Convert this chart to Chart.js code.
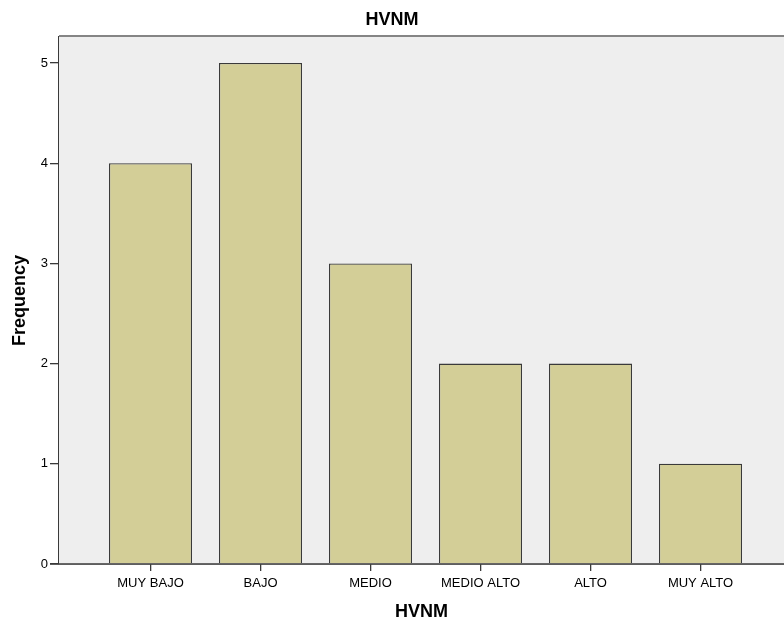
<!DOCTYPE html>
<html>
<head>
<meta charset="utf-8">
<script src="https://cdn.jsdelivr.net/npm/chart.js@4.4.1/dist/chart.umd.min.js"></script>
<style>
  html, body { margin: 0; padding: 0; background: #ffffff; }
  canvas { display: block; }
</style>
</head>
<body>
<canvas id="grafico" width="784" height="623"></canvas>
<script>
// Datos del gráfico
const categorias = ['MUY BAJO', 'BAJO', 'MEDIO', 'MEDIO ALTO', 'ALTO', 'MUY ALTO'];
const frecuencias = [4, 5, 3, 2, 2, 1];
const ticksY = [0, 1, 2, 3, 4, 5];
const titulo = 'HVNM';
const tituloX = 'HVNM';
const tituloY = 'Frequency';

const fuente = "'Liberation Sans', Arial, sans-serif";
const colorEje = '#3a3a3a';

// Fondo gris del área de trazado, borde superior y línea base encima de las barras
const fondoPlot = {
    id: 'fondoPlot',
    beforeDatasetsDraw(chart) {
        const { ctx, chartArea: a } = chart;
        ctx.save();
        ctx.fillStyle = '#eeeeee';
        ctx.fillRect(a.left, a.top, a.right - a.left, a.bottom - a.top);
        ctx.restore();
    },
    afterDraw(chart) {
        const { ctx, chartArea: a } = chart;
        ctx.save();
        ctx.strokeStyle = '#858585';
        ctx.lineWidth = 2;
        ctx.beginPath();
        ctx.moveTo(a.left, a.top - 1);
        ctx.lineTo(a.right, a.top - 1);
        ctx.stroke();
        // línea base del eje x
        ctx.strokeStyle = colorEje;
        ctx.lineWidth = 1.3;
        ctx.beginPath();
        ctx.moveTo(a.left - 9, a.bottom);
        ctx.lineTo(a.right, a.bottom);
        ctx.stroke();
        ctx.restore();
    }
};

const ctx = document.getElementById('grafico').getContext('2d');
const chart = new Chart(ctx, {
    type: 'bar',
    data: {
        datasets: [{
            label: 'Frequency',
            data: frecuencias.map((v, i) => ({ x: i, y: v })),
            backgroundColor: '#d3ce97',
            borderColor: colorEje,
            borderWidth: 1.3,
            barPercentage: 0.755,
            categoryPercentage: 1,
        }],
    },
    options: {
        responsive: false,
        animation: false,
        devicePixelRatio: 1,
        layout: { padding: { left: 0, right: 0, top: 0, bottom: 0 } },
        plugins: {
            legend: { display: false },
            tooltip: { enabled: false },
            title: {
                display: true,
                text: titulo,
                color: '#000000',
                font: { family: fuente, size: 18, weight: 'bold' },
                padding: { top: 9, bottom: 6.4 },
            },
        },
        scales: {
            x: {
                type: 'linear',
                offset: false,
                min: -0.832,
                max: 5.759,
                afterBuildTicks: s => { s.ticks = categorias.map((_, i) => ({ value: i })); },
                afterFit: s => { s.height = 59; },
                ticks: {
                    autoSkip: false,
                    maxRotation: 0,
                    padding: 5,
                    color: '#000000',
                    font: { family: fuente, size: 13 },
                    callback: v => categorias[v] ?? '',
                },
                grid: {
                    display: true,
                    offset: false,
                    drawOnChartArea: false,
                    drawTicks: true,
                    tickLength: 7,
                    lineWidth: 1.3,
                    color: colorEje,
                },
                border: { display: true, color: colorEje, width: 1.3 },
                title: {
                    display: true,
                    text: tituloX,
                    color: '#000000',
                    font: { family: fuente, size: 18, weight: 'bold' },
                    padding: { top: 0, bottom: 0 },
                },
            },
            y: {
                min: 0,
                max: 5.26,
                afterBuildTicks: s => { s.ticks = ticksY.map(v => ({ value: v })); },
                afterFit: s => { s.width = 59; },
                ticks: {
                    padding: 2,
                    color: '#000000',
                    font: { family: fuente, size: 13 },
                },
                grid: {
                    display: true,
                    drawOnChartArea: false,
                    drawTicks: true,
                    tickLength: 9,
                    lineWidth: 1.3,
                    color: colorEje,
                },
                border: { display: true, color: colorEje, width: 1.3 },
                title: {
                    display: true,
                    text: tituloY,
                    color: '#000000',
                    font: { family: fuente, size: 18, weight: 'bold' },
                    padding: { top: 9, bottom: 0 },
                },
            },
        },
    },
    plugins: [fondoPlot],
});
</script>
</body>
</html>
